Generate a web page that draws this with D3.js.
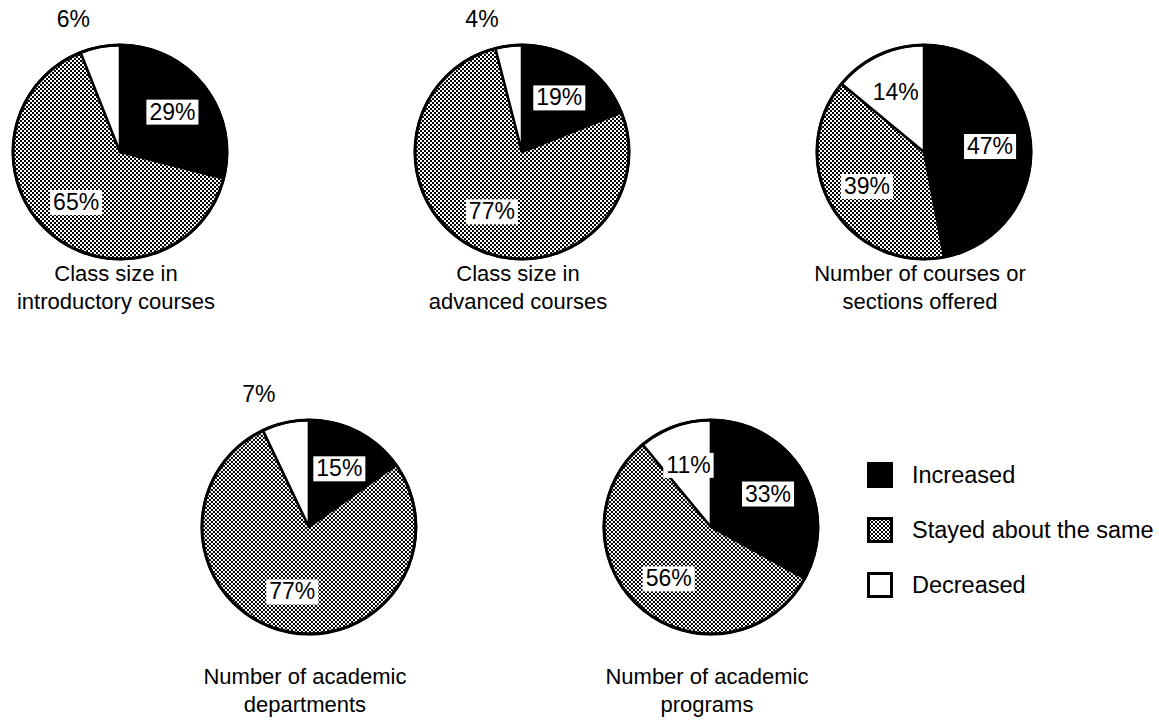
<!DOCTYPE html>
<html>
<head>
<meta charset="utf-8">
<script src="https://cdn.jsdelivr.net/npm/d3@7"></script>
<style>
  body { margin: 0; background: #fff; }
  svg { display: block; }
  text { font-family: "Liberation Sans", Arial, Helvetica, sans-serif; fill: #000; }
</style>
</head>
<body>
<svg id="chart" width="1159" height="724"></svg>
<script>
// data
const categories = ["Increased", "Stayed about the same", "Decreased"];
const captions = [
  ["Class size in", "introductory courses"],
  ["Class size in", "advanced courses"],
  ["Number of courses or", "sections offered"],
  ["Number of academic", "departments"],
  ["Number of academic", "programs"],
];
const increased = [29, 19, 47, 15, 33];
const stayed = [65, 77, 39, 77, 56];
const decreased = [6, 4, 14, 7, 11];

// grid slot of each pie (column, row)
const slots = [[0, 0], [1, 0], [2, 0], [0.47, 1], [1.47, 1]];

const radius = 107;
const fontSize = 23;

const svg = d3.select("#chart");

const defs = svg.append("defs");
const stipple = defs.append("pattern")
  .attr("id", "stipple")
  .attr("patternUnits", "userSpaceOnUse")
  .attr("width", 4)
  .attr("height", 4);
stipple.append("rect").attr("width", 4).attr("height", 4).attr("fill", "#fff");
stipple.append("rect").attr("width", 2).attr("height", 2).attr("fill", "#000");
stipple.append("rect").attr("x", 2).attr("y", 2).attr("width", 2).attr("height", 2).attr("fill", "#000");

const fill = d3.scaleOrdinal()
  .domain(categories)
  .range(["#000", "url(#stipple)", "#fff"]);

const x = d3.scaleLinear().domain([0, 2]).range([120, 924]);
const y = d3.scaleLinear().domain([0, 1]).range([152, 527]);
const captionY = d3.scaleLinear().domain([0, 1]).range([281, 684]);

const pie = d3.pie()
  .sort(null)
  .value(d => d.value);

const arc = d3.arc().innerRadius(0).outerRadius(radius);
const labelArc = d3.arc().innerRadius(radius * 0.62).outerRadius(radius * 0.62);

const charts = captions.map((caption, i) => ({
  caption,
  slot: slots[i],
  values: [
    { key: categories[0], value: increased[i] },
    { key: categories[1], value: stayed[i] },
    { key: categories[2], value: decreased[i] },
  ],
}));

charts.forEach(chart => {
  const cx = x(chart.slot[0]);
  const cy = y(chart.slot[1]);
  const g = svg.append("g").attr("transform", `translate(${cx},${cy})`);
  const arcs = pie(chart.values);

  g.selectAll("path.slice")
    .data(arcs)
    .enter()
    .append("path")
    .attr("class", "slice")
    .attr("d", arc)
    .attr("fill", d => fill(d.data.key))
    .attr("stroke", "#000")
    .attr("stroke-width", 2.5)
    .attr("stroke-linejoin", "round");

  g.append("circle")
    .attr("r", radius)
    .attr("fill", "none")
    .attr("stroke", "#000")
    .attr("stroke-width", 3);

  // big slices: label inside on a white box
  const inside = arcs.filter(d => d.data.value >= 10);
  const lab = g.selectAll("g.label")
    .data(inside)
    .enter()
    .append("g")
    .attr("class", "label")
    .attr("transform", d => `translate(${labelArc.centroid(d)})`);

  lab.append("text")
    .text(d => `${d.data.value}%`)
    .attr("text-anchor", "middle")
    .attr("dy", "0.36em")
    .style("font-size", fontSize + "px");

  lab.each(function () {
    const t = d3.select(this).select("text");
    const b = t.node().getBBox();
    d3.select(this).insert("rect", "text")
      .attr("x", b.x - 3)
      .attr("y", b.y + 1)
      .attr("width", b.width + 6)
      .attr("height", b.height - 1)
      .attr("fill", "#fff");
  });

  // small slices: label above the pie
  g.selectAll("text.outer")
    .data(arcs.filter(d => d.data.value < 10))
    .enter()
    .append("text")
    .attr("class", "outer")
    .text(d => `${d.data.value}%`)
    .attr("text-anchor", "end")
    .attr("x", d => radius * Math.sin((d.startAngle + d.endAngle) / 2) - 10)
    .attr("y", -radius - 18)
    .style("font-size", fontSize + "px");

  svg.append("text")
    .attr("x", cx - 4)
    .attr("y", captionY(chart.slot[1]))
    .attr("text-anchor", "middle")
    .style("font-size", "22px")
    .selectAll("tspan")
    .data(chart.caption)
    .enter()
    .append("tspan")
    .attr("x", cx - 4)
    .attr("dy", (d, i) => i ? 28 : 0)
    .text(d => d);
});

// legend
const legend = svg.append("g").attr("transform", "translate(867,462)");
const item = legend.selectAll("g")
  .data(categories)
  .enter()
  .append("g")
  .attr("transform", (d, i) => `translate(0,${i * 55})`);

item.append("rect")
  .attr("x", 1.5)
  .attr("y", 1.5)
  .attr("width", 23)
  .attr("height", 23)
  .attr("fill", d => fill(d))
  .attr("stroke", "#000")
  .attr("stroke-width", 3);

item.append("text")
  .attr("x", 45)
  .attr("y", 13)
  .attr("dy", "0.36em")
  .style("font-size", "23.5px")
  .text(d => d);
</script>
</body>
</html>
